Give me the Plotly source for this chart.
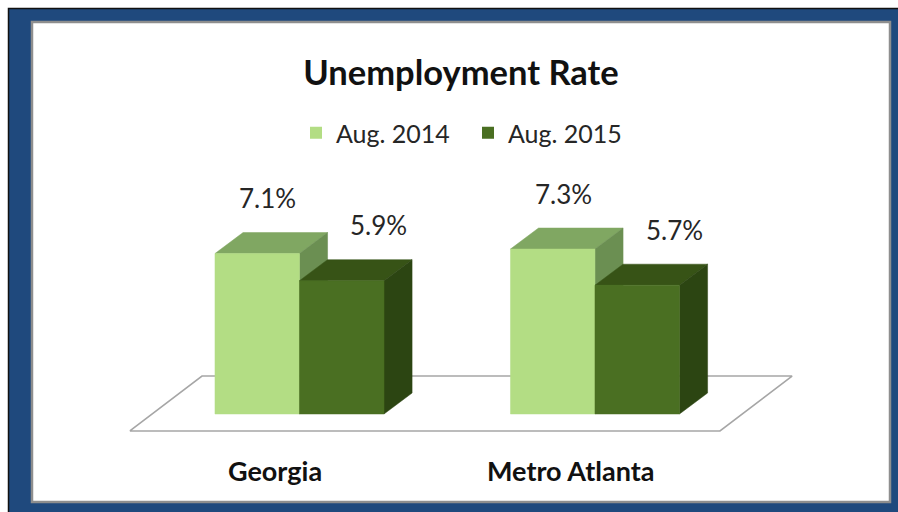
import plotly.graph_objects as go

# ---- data ----
regions = ["Georgia", "Metro Atlanta"]
series_names = ["Aug. 2014", "Aug. 2015"]
rate_2014 = [7.1, 7.3]
rate_2015 = [5.9, 5.7]
series_values = [rate_2014, rate_2015]

# ---- styling ----
FONT = "Lato"
front_colors = ["#B3DD84", "#4A6F22"]
top_colors = ["#80A762", "#375316"]
side_colors = ["#6B8F52", "#2C4512"]

BAR_W = 0.286          # bar width in category units
DEPTH_X = 0.095        # 3D depth offset (x, category units)
DEPTH_Y = 0.93         # 3D depth offset (y, percent units)

W, H = 898, 512
X_RANGE = [-1.0135, 2.0254]
Y_RANGE = [-4.336, 18.32]

fig = go.Figure()

# floor outline
fl_front, fl_back = -0.75, 1.68
fl_left, fl_right, fl_shift = -0.574, 1.423, 0.244
fig.add_trace(go.Scatter(
    x=[fl_left, fl_right, fl_right + fl_shift, fl_left + fl_shift, fl_left],
    y=[fl_front, fl_front, fl_back, fl_back, fl_front],
    mode="lines", line=dict(color="#A6A6A6", width=1.6),
    hoverinfo="skip", showlegend=False))


def poly(xs, ys, color):
    fig.add_trace(go.Scatter(
        x=xs + [xs[0]], y=ys + [ys[0]], mode="lines", fill="toself",
        fillcolor=color, line=dict(color=color, width=0.5),
        hoverinfo="skip", showlegend=False))


for gi, region in enumerate(regions):
    for si in range(len(series_names)):
        v = series_values[si][gi]
        x0 = gi - BAR_W + si * BAR_W
        x1 = x0 + BAR_W
        # top face
        poly([x0, x1, x1 + DEPTH_X, x0 + DEPTH_X],
             [v, v, v + DEPTH_Y, v + DEPTH_Y], top_colors[si])
        # side face
        poly([x1, x1 + DEPTH_X, x1 + DEPTH_X, x1],
             [0, DEPTH_Y, v + DEPTH_Y, v], side_colors[si])
        # front face
        poly([x0, x1, x1, x0], [0, 0, v, v], front_colors[si])

# legend entries
for si, name in enumerate(series_names):
    fig.add_trace(go.Scatter(
        x=[None], y=[None], mode="markers", name=name,
        marker=dict(symbol="square", size=13, color=front_colors[si])))

annotations = []
# value labels
label_dx = [0.035, 0.125]
for gi in range(len(regions)):
    for si in range(len(series_names)):
        v = series_values[si][gi]
        xc = gi - BAR_W + si * BAR_W + BAR_W / 2 + label_dx[si]
        annotations.append(dict(
            x=xc, y=v + 2.45, xref="x", yref="y", text=f"{v:.1f}%",
            showarrow=False, font=dict(family=FONT, size=26, color="#262626"),
            xanchor="center", yanchor="middle"))
# category labels
for gi, region in enumerate(regions):
    annotations.append(dict(
        x=gi - 0.083, y=-2.48, xref="x", yref="y", text=f"<b>{region}</b>",
        showarrow=False, font=dict(family=FONT, size=27, color="#111111"),
        xanchor="center", yanchor="middle"))

shapes = [
    # dark blue frame
    dict(type="rect", xref="paper", yref="paper", layer="below",
         x0=8.5 / W, x1=1.02, y0=-0.02, y1=1 - 8.5 / H,
         fillcolor="#1F497D", line=dict(color="#111111", width=1.5)),
    # white panel with grey edge
    dict(type="rect", xref="paper", yref="paper", layer="below",
         x0=32 / W, x1=890 / W, y0=1 - 502 / H, y1=1 - 22 / H,
         fillcolor="white", line=dict(color="#8E8E8E", width=2.5)),
]

fig.update_layout(
    width=W, height=H, margin=dict(l=0, r=0, t=0, b=0),
    paper_bgcolor="white", plot_bgcolor="rgba(0,0,0,0)",
    xaxis=dict(range=X_RANGE, visible=False, fixedrange=True),
    yaxis=dict(range=Y_RANGE, visible=False, fixedrange=True),
    title=dict(text="<b>Unemployment Rate</b>", x=461 / W, xanchor="center",
               y=1 - 73 / H, yanchor="middle",
               font=dict(family=FONT, size=34.5, color="#111111")),
    legend=dict(orientation="h", x=468 / W, xanchor="center",
                y=1 - 133 / H, yanchor="middle",
                entrywidth=127, entrywidthmode="pixels",
                font=dict(family=FONT, size=25, color="#262626"),
                bgcolor="rgba(0,0,0,0)", itemsizing="constant"),
    annotations=annotations, shapes=shapes, hovermode=False,
)

fig.write_html("out.html")
